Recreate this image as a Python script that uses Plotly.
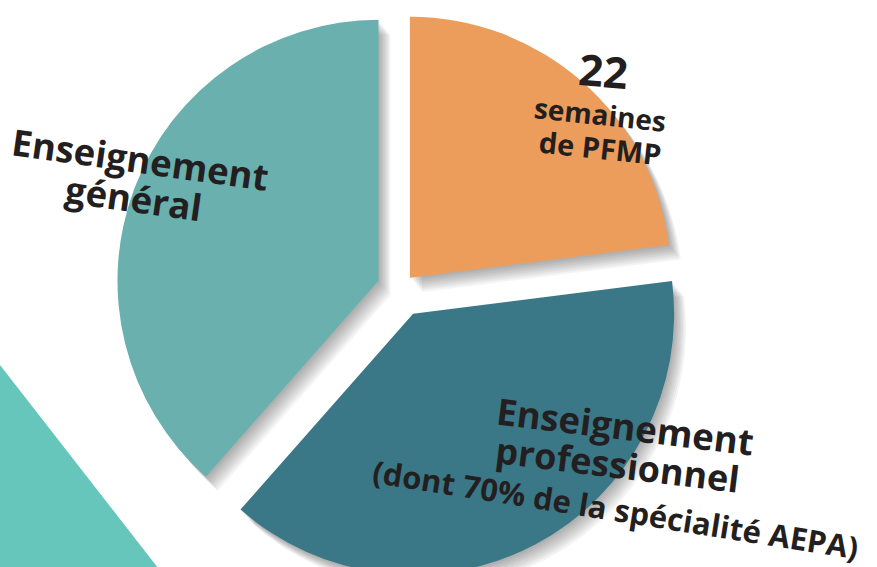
import plotly.graph_objects as go

# ---- data ----
categories = ["PFMP", "Enseignement professionnel", "Enseignement général"]
values = [23, 38.5, 38.5]
label_lines = [
    ["22", "semaines", "de PFMP"],
    ["Enseignement", "professionnel", "(dont 70% de la spécialité AEPA)"],
    ["Enseignement", "général"],
]

# ---- styling ----
colors = ["#EC9D5C", "#3A7888", "#69B0AE"]
W, H = 877, 600
R = 261.0                       # slice radius in px
pull_px = [15, 28, 23]          # explode distance per slice in px
pulls = [p / R for p in pull_px]
cx, cy = 400.0, 289.0
ry = R * (1 + max(pulls))
rx = 300.0


def dom(dx=0.0, dy=0.0):
    return dict(
        x=[(cx - rx + dx) / W, (cx + rx + dx) / W],
        y=[1 - (cy + ry + dy) / H, 1 - (cy - ry + dy) / H],
    )


fig = go.Figure()

# soft drop shadow made of offset translucent copies of the pie
for k in range(1, 9):
    fig.add_trace(go.Pie(
        labels=categories, values=values, sort=False, direction="clockwise",
        rotation=0, pull=pulls, domain=dom(1.5 * k, 1.8 * k),
        marker=dict(colors=["rgba(0,0,0,0.045)"] * 3, line=dict(width=0)),
        textinfo="none", hoverinfo="skip", showlegend=False,
    ))

fig.add_trace(go.Pie(
    labels=categories, values=values, sort=False, direction="clockwise",
    rotation=0, pull=pulls, domain=dom(),
    marker=dict(colors=colors, line=dict(width=0)),
    textinfo="none", hovertemplate="%{label}: %{value}<extra></extra>",
    showlegend=False,
))

# label placement: (x_px, y_px, size, angle) per line
placements = [
    [(603, 70, 43, 5), (600, 114, 28, 6), (600, 147, 29, 6)],
    [(625, 426, 36.5, 7), (617, 464, 36, 7), (615, 509, 31, 9)],
    [(140, 159, 36.5, 8), (134, 198, 36.5, 8)],
]
annotations = []
for lines, places in zip(label_lines, placements):
    for txt, (x, y, s, a) in zip(lines, places):
        annotations.append(dict(
            text=txt, x=x / W, y=1 - y / H, xref="paper", yref="paper",
            xanchor="center", yanchor="middle", showarrow=False,
            textangle=a,
            font=dict(family="Open Sans", size=s, color="#231F20", weight=700),
        ))

# decorative corner triangle
tri = [(0, 365), (183, 600), (0, 600)]
path = "M " + " L ".join(f"{x / W},{1 - y / H}" for x, y in tri) + " Z"

fig.update_layout(
    width=W, height=H,
    margin=dict(l=0, r=0, t=0, b=0),
    paper_bgcolor="white", plot_bgcolor="white",
    annotations=annotations,
    shapes=[dict(type="path", path=path, xref="paper", yref="paper",
                 fillcolor="#67C6BB", line=dict(width=0), layer="below")],
)

fig.write_html(
    "out.html",
    post_script="document.documentElement.style.overflow='hidden';"
                "document.body.style.overflow='hidden';"
                "document.body.style.margin='0';",
)
